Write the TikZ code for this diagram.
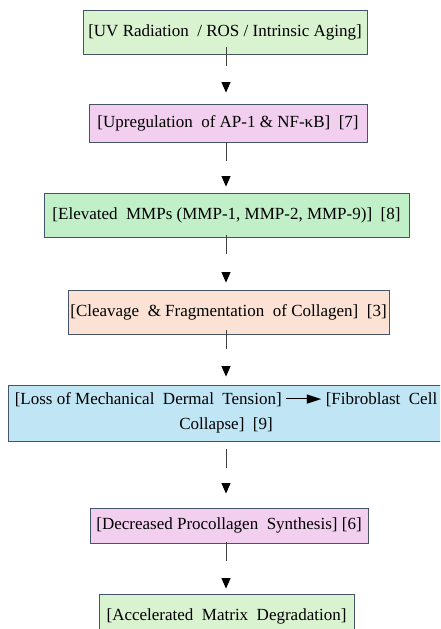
\documentclass[tikz,border=0pt]{standalone}
\usepackage{fontspec}
\setmainfont{Liberation Serif}
\newfontfamily\dejavu{DejaVu Sans}
\usetikzlibrary{arrows.meta,calc}
\definecolor{cgreenA}{HTML}{D9F2D0}
\definecolor{cpink}{HTML}{F2CEEF}
\definecolor{cgreenB}{HTML}{C1F0C8}
\definecolor{cpeach}{HTML}{FBE2D5}
\definecolor{cblue}{HTML}{C0E6F5}
\definecolor{cborder}{HTML}{46546A}
\definecolor{cline}{HTML}{404040}
\tikzset{
  box/.style={draw=cborder, line width=0.9pt, inner sep=0pt, align=center,
    font=\fontsize{17}{25}\selectfont, text=black},
  conn/.style={draw=cline, line width=1pt,
    dash pattern=on 19pt off 400pt,
    -{Triangle[length=10.5pt,width=9pt,fill=black,color=black]}}
}
\begin{document}
\begin{tikzpicture}[x=1pt,y=1pt]
\clip (0,0) rectangle (440,-629);
\fill[white] (0,0) rectangle (440,-629);
\coordinate (ax) at (226,0);
\node[box, fill=cgreenA, minimum width=284, minimum height=44] (b1) at (225,-32)
  {[UV Radiation \ / ROS / Intrinsic Aging]};
\node[box, fill=cpink, minimum width=278, minimum height=38] (b2) at (228,-123)
  {[Upregulation \ of AP-1 \& NF-κB] \ [7]};
\node[box, fill=cgreenB, minimum width=365, minimum height=44] (b3) at (226.5,-215)
  {[Elevated \ MMPs (MMP-1, MMP-2, MMP-9)] \ [8]};
\node[box, fill=cpeach, minimum width=321, minimum height=44] (b4) at (228.5,-312)
  {[Cleavage \ \& Fragmentation \ of Collagen] \ [3]};
\node[box, fill=cblue, minimum width=436, minimum height=56] (b5) at (226,-413)
  {[Loss of Mechanical \ Dermal \ Tension] \raisebox{0.33em}{\rule{23pt}{0.7pt}}\kern-2pt{\dejavu\fontsize{19}{19}\selectfont ►} [Fibroblast \ Cell\\Collapse] \ [9]};
\node[box, fill=cpink, minimum width=278, minimum height=35] (b6) at (229,-525.5)
  {[Decreased Procollagen \ Synthesis] [6]};
\node[box, fill=cgreenA, minimum width=255, minimum height=44] (b7) at (226.5,-616)
  {[Accelerated \ Matrix \ Degradation]};
\draw[conn] ($(b1.south -| ax)+(0,7)$) -- ($(b2.north -| ax)+(0,11)$);
\draw[conn] ($(b2.south -| ax)+(0,0)$) -- ($(b3.north -| ax)+(0,6)$);
\draw[conn] ($(b3.south -| ax)+(0,2)$) -- ($(b4.north -| ax)+(0,7)$);
\draw[conn] ($(b4.south -| ax)+(0,4)$) -- ($(b5.north -| ax)+(0,8)$);
\draw[conn] ($(b5.south -| ax)+(0,-8)$) -- ($(b6.north -| ax)+(0,14)$);
\draw[conn] ($(b6.south -| ax)+(0,1)$) -- ($(b7.north -| ax)+(0,5)$);
\end{tikzpicture}
\end{document}
